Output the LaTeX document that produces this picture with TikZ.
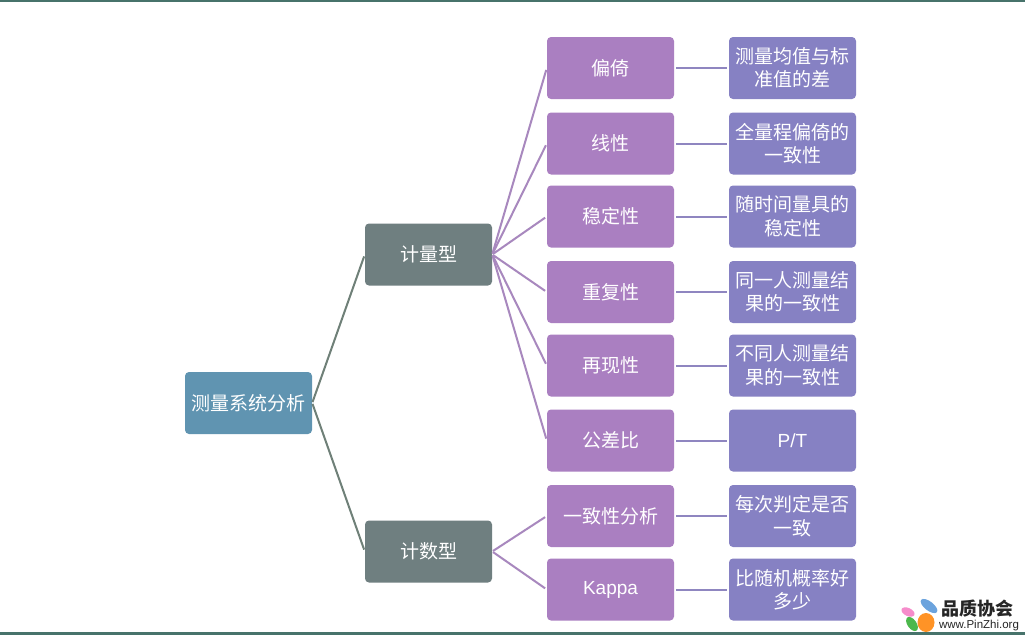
\documentclass[tikz,border=0pt]{standalone}
\usepackage{fontspec}
\setmainfont{Liberation Sans}
\newfontfamily\cjk{Noto Sans CJK SC}
\definecolor{rootcolor}{HTML}{6094B1}
\definecolor{graycolor}{HTML}{6F7F80}
\definecolor{purplecolor}{HTML}{AA7FC1}
\definecolor{bluecolor}{HTML}{8681C3}
\definecolor{graylinea}{HTML}{6F8078}
\definecolor{purplelinea}{HTML}{A888BE}
\definecolor{bluelinea}{HTML}{8F86C0}
\definecolor{framecolor}{HTML}{47736B}
\tikzset{
  caja/.style={draw=none,rounded corners=4pt,minimum width=127pt,minimum height=62pt,inner sep=0pt,
    text=white,align=center,font=\fontsize{19pt}{23.5pt}\selectfont\cjk},
  raiz/.style={caja,fill=rootcolor},
  tipo/.style={caja,fill=graycolor},
  metodo/.style={caja,fill=purplecolor},
  nota/.style={caja,fill=bluecolor},
  ramagris/.style={draw=graylinea,line width=2pt,shorten >=2pt,shorten <=1pt},
  ramalila/.style={draw=purplelinea,line width=2pt,shorten >=2pt,shorten <=1pt},
  ramaazul/.style={draw=bluelinea,line width=2pt,shorten >=2pt,shorten <=2pt}
}
\begin{document}
\begin{tikzpicture}[x=1pt,y=-1pt]
  \useasboundingbox (0,0) rectangle (1025,637);
  \fill[white] (0,0) rectangle (1025,637);
  %marco
  \fill[framecolor] (0,0) rectangle (1025,2);
  \fill[framecolor] (0,632) rectangle (1025,635);

  %cajas
  \node[raiz] at (248.5,403) (raiz) {测量系统分析};
  \node[tipo] at (428.5,254.5) (calc) {计量型};
  \node[tipo] at (428.5,551.5) (cuenta) {计数型};

  \node[metodo] at (610.5,68) (sesgo) {偏倚};
  \node[metodo] at (610.5,143.5) (lineal) {线性};
  \node[metodo] at (610.5,216.5) (estable) {稳定性};
  \node[metodo] at (610.5,292) (repite) {重复性};
  \node[metodo] at (610.5,365.5) (reprod) {再现性};
  \node[metodo] at (610.5,440.5) (razon) {公差比};
  \node[metodo] at (610.5,516) (acuerdo) {一致性分析};
  \node[metodo] at (610.5,589.5) (kappa) {{\rmfamily Kappa}};

  \node[nota] at (792.5,68) (nsesgo) {测量均值与标\\准值的差};
  \node[nota] at (792.5,143.5) (nlineal) {全量程偏倚的\\一致性};
  \node[nota] at (792.5,216.5) (nestable) {随时间量具的\\稳定性};
  \node[nota] at (792.5,292) (nrepite) {同一人测量结\\果的一致性};
  \node[nota] at (792.5,365.5) (nreprod) {不同人测量结\\果的一致性};
  \node[nota] at (792.5,440.5) (nrazon) {{\rmfamily P/T}};
  \node[nota] at (792.5,516) (nacuerdo) {每次判定是否\\一致};
  \node[nota] at (792.5,589.5) (nkappa) {比随机概率好\\多少};

  %ramas
  \draw [ramagris] (raiz.east) -- (calc.west);
  \draw [ramagris] (raiz.east) -- (cuenta.west);

  \draw [ramalila] (calc.east) -- (sesgo.west);
  \draw [ramalila] (calc.east) -- (lineal.west);
  \draw [ramalila] (calc.east) -- (estable.west);
  \draw [ramalila] (calc.east) -- (repite.west);
  \draw [ramalila] (calc.east) -- (reprod.west);
  \draw [ramalila] (calc.east) -- (razon.west);
  \draw [ramalila] (cuenta.east) -- (acuerdo.west);
  \draw [ramalila] (cuenta.east) -- (kappa.west);

  \draw [ramaazul] (sesgo.east) -- (nsesgo.west);
  \draw [ramaazul] (lineal.east) -- (nlineal.west);
  \draw [ramaazul] (estable.east) -- (nestable.west);
  \draw [ramaazul] (repite.east) -- (nrepite.west);
  \draw [ramaazul] (reprod.east) -- (nreprod.west);
  \draw [ramaazul] (razon.east) -- (nrazon.west);
  \draw [ramaazul] (acuerdo.east) -- (nacuerdo.west);
  \draw [ramaazul] (kappa.east) -- (nkappa.west);

  %logo
  \fill[cyan!60!blue!60] (929,606) ellipse [x radius=10pt,y radius=4.5pt,rotate=-38];
  \fill[magenta!45] (908,612) ellipse [x radius=7pt,y radius=4pt,rotate=-25];
  \fill[green!60!black!70] (912,624) ellipse [x radius=8pt,y radius=4.5pt,rotate=-55];
  \fill[orange!85] (926,622.5) ellipse [x radius=8.5pt,y radius=9.5pt];
  \node[font=\fontsize{18pt}{18pt}\selectfont\cjk\bfseries,text=black!85] at (977,609) (marca) {品质协会};
  \node[font=\fontsize{11.5pt}{12pt}\selectfont,text=black!85] at (979,626) (web) {www.PinZhi.org};
\end{tikzpicture}
\end{document}
